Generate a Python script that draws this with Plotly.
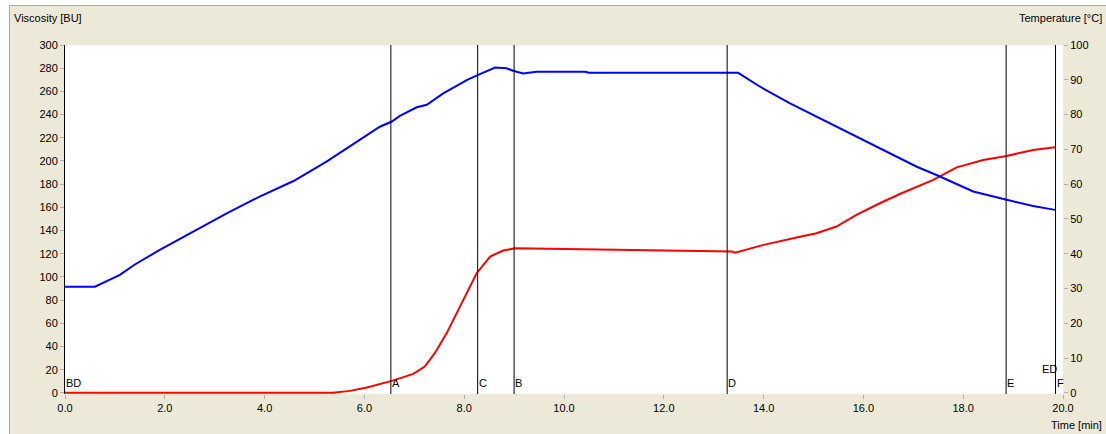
import plotly.graph_objects as go

# ---------------- data ----------------
visc_t = [0.0, 5.37, 5.71, 6.05, 6.55, 6.98, 7.21, 7.41, 7.65, 7.85, 8.05, 8.25, 8.52, 8.78,
          9.02, 9.92, 11.0, 12.0, 13.36, 13.43, 14.0, 14.73, 15.06, 15.46, 15.86, 16.33,
          16.73, 17.4, 17.87, 18.4, 18.87, 19.4, 19.84]
visc_v = [0.0, 0.0, 1.7, 4.6, 10.3, 16.4, 22.7, 34.2, 51.5, 68.7, 87.3, 103.2, 117.5, 122.7,
          124.7, 124.1, 123.5, 122.8, 121.8, 120.9, 127.6, 134.7, 137.7, 143.4, 153.4, 163.5,
          171.5, 183.6, 194.5, 200.8, 204.3, 209.5, 211.8]

temp_t = [0.0, 0.6, 1.1, 1.4, 1.9, 2.7, 3.24, 3.9, 4.58, 5.24, 5.91, 6.31, 6.55, 6.71,
          7.05, 7.25, 7.58, 8.05, 8.28, 8.62, 8.85, 8.98, 9.18, 9.45, 10.42, 10.5, 13.49,
          13.93, 14.53, 15.06, 15.66, 16.33, 17.07, 17.5, 18.2, 18.87, 19.4, 19.84]
temp_v = [30.5, 30.5, 33.9, 36.9, 41.1, 47.3, 51.6, 56.4, 60.9, 66.5, 72.7, 76.5, 78.0, 79.6,
          82.1, 82.8, 86.1, 89.9, 91.4, 93.5, 93.3, 92.6, 91.8, 92.3, 92.3, 92.0, 92.0,
          88.0, 83.2, 79.4, 75.1, 70.3, 65.0, 62.4, 57.9, 55.5, 53.7, 52.6]

marker_names = ["A", "C", "B", "D", "E", "F"]
marker_times = [6.53, 8.27, 9.0, 13.27, 18.86, 19.85]

x_ticks = [0, 2, 4, 6, 8, 10, 12, 14, 16, 18, 20]
y_ticks = list(range(0, 301, 20))
y2_ticks = list(range(0, 101, 10))

# ---------------- layout geometry ----------------
W, H = 1106, 434
ML, MR, MT, MB = 65, 43, 45, 40
PW, PH = W - ML - MR, H - MT - MB
FONT = "Liberation Sans, Arial, sans-serif"
BEIGE = "#ECE9D8"


def px_x(px):
    return (px - ML) / PW


def px_y(py):
    return (H - MB - py) / PH


fig = go.Figure()
fig.add_trace(go.Scatter(x=visc_t, y=visc_v, mode="lines", name="Viscosity",
                         line=dict(color="#FF0000", width=2), yaxis="y"))
fig.add_trace(go.Scatter(x=temp_t, y=temp_v, mode="lines", name="Temperature",
                         line=dict(color="#0000FF", width=2), yaxis="y2"))

shapes = []
for t in marker_times:
    shapes.append(dict(type="line", xref="x", yref="paper", x0=t, x1=t, y0=0, y1=1,
                       line=dict(color="#000000", width=1), layer="above"))
# white strips and light frame lines at top/left of the window
shapes.append(dict(type="rect", xref="paper", yref="paper", x0=px_x(0), x1=px_x(W),
                   y0=px_y(5), y1=px_y(0), fillcolor="#FFFFFF", line=dict(width=0)))
shapes.append(dict(type="rect", xref="paper", yref="paper", x0=px_x(0), x1=px_x(9.5),
                   y0=px_y(H), y1=px_y(0), fillcolor="#FFFFFF", line=dict(width=0)))
shapes.append(dict(type="line", xref="paper", yref="paper", x0=px_x(9.5), x1=px_x(W),
                   y0=px_y(5.5), y1=px_y(5.5), line=dict(color="#ACA899", width=1)))
shapes.append(dict(type="line", xref="paper", yref="paper", x0=px_x(9.5), x1=px_x(9.5),
                   y0=px_y(H), y1=px_y(5.5), line=dict(color="#ACA899", width=1)))

annotations = []
font = dict(family=FONT, size=11, color="#000000")
annotations.append(dict(text="Viscosity [BU]", xref="paper", yref="paper", x=px_x(12), y=px_y(18),
                        xanchor="left", yanchor="middle", showarrow=False, font=font))
annotations.append(dict(text="Temperature [°C]", xref="paper", yref="paper", x=px_x(1104), y=px_y(18),
                        xanchor="right", yanchor="middle", showarrow=False, font=font))
annotations.append(dict(text="Time [min]", xref="paper", yref="paper", x=px_x(1104), y=px_y(425),
                        xanchor="right", yanchor="middle", showarrow=False, font=font))
annotations.append(dict(text="BD", xref="x", yref="paper", x=0, y=px_y(383),
                        xanchor="left", yanchor="middle", xshift=-1, showarrow=False, font=font))
for name, t in zip(marker_names, marker_times):
    annotations.append(dict(text=name, xref="x", yref="paper", x=t, y=px_y(383),
                            xanchor="left", yanchor="middle", xshift=-1, showarrow=False, font=font))
annotations.append(dict(text="ED", xref="x", yref="paper", x=marker_times[-1], y=px_y(369),
                        xanchor="right", yanchor="middle", xshift=3, showarrow=False, font=font))

fig.update_layout(
    width=W, height=H,
    margin=dict(l=ML, r=MR, t=MT, b=MB, pad=0),
    paper_bgcolor=BEIGE, plot_bgcolor="#FFFFFF",
    showlegend=False,
    font=font,
    shapes=shapes,
    annotations=annotations,
    xaxis=dict(range=[0, 20], tickvals=x_ticks, ticktext=[f"{v:.1f}" for v in x_ticks],
               showgrid=False, zeroline=False, showline=False,
               ticks="outside", ticklen=4, tickcolor="#B0B0B0", tickfont=font),
    yaxis=dict(range=[-1, 300], tickvals=y_ticks, showgrid=False, zeroline=False,
               showline=True, linecolor="#000000", linewidth=1,
               ticks="outside", ticklen=4, tickcolor="#B0B0B0", tickfont=font),
    yaxis2=dict(range=[-1 / 3, 100], tickvals=y2_ticks, overlaying="y", side="right",
                showgrid=False, zeroline=False, showline=False,
                ticks="outside", ticklen=4, tickcolor="#B0B0B0", tickfont=font),
)

fig.write_html("out.html")
